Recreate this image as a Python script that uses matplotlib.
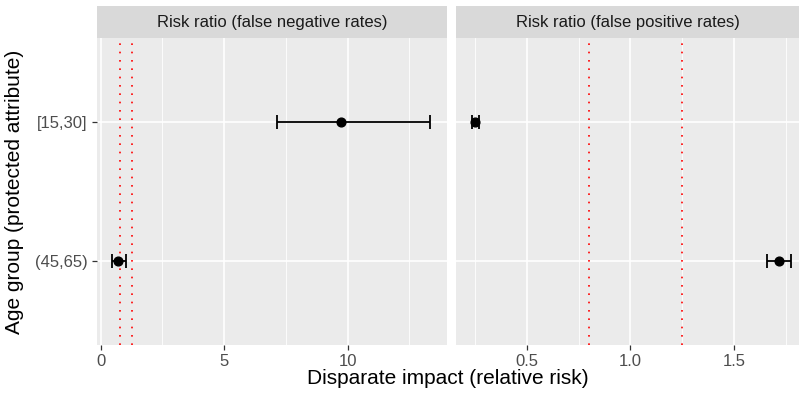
import matplotlib.pyplot as plt
from matplotlib.patches import Rectangle

plt.rcParams['font.family'] = ['Liberation Sans', 'DejaVu Sans']

groups = ['(45,65)', '[15,30]']
panels = ['Risk ratio (false negative rates)', 'Risk ratio (false positive rates)']
estimate = [[0.70, 9.72], [1.716, 0.252]]
lower = [[0.46, 7.15], [1.66, 0.234]]
upper = [[1.01, 13.32], [1.775, 0.270]]
thresholds = [0.8, 1.25]
xticks = [[0, 5, 10], [0.5, 1.0, 1.5]]
xticklabels = [['0', '5', '10'], ['0.5', '1.0', '1.5']]
xminor = [[2.5, 7.5, 12.5], [0.25, 0.75, 1.25, 1.75]]
xlims = [(-0.15, 14.02), (0.158, 1.815)]

W, H = 799, 394
fig = plt.figure(figsize=(W / 100, H / 100), dpi=100)
boxes = [(97, 447), (456, 799)]
top, bottom, strip_top = 38, 345, 6
grey_txt = '#4D4D4D'

axes = []
for i, (x0, x1) in enumerate(boxes):
    ax = fig.add_axes([x0 / W, (H - bottom) / H, (x1 - x0) / W, (bottom - top) / H])
    ax.set_facecolor('#EBEBEB')
    for s in ax.spines.values():
        s.set_visible(False)
    ypos = list(range(1, len(groups) + 1))
    ax.set_xlim(*xlims[i])
    ax.set_ylim(0.4, len(groups) + 0.6)
    for m in xminor[i]:
        ax.axvline(m, color='white', lw=0.6, zorder=0)
    for t in xticks[i]:
        ax.axvline(t, color='white', lw=1.2, zorder=0)
    for y in ypos:
        ax.axhline(y, color='white', lw=1.2, zorder=0)
    for t in thresholds:
        ax.axvline(t, color='red', lw=1.2, ls=(0, (1, 4)), zorder=1)
    est = estimate[i]
    lo = [e - l for e, l in zip(est, lower[i])]
    hi = [u - e for e, u in zip(est, upper[i])]
    ax.errorbar(est, ypos, xerr=[lo, hi], fmt='o', color='black', ms=6.3,
                elinewidth=1.3, capsize=5, capthick=1.3, zorder=3)
    ax.set_xticks(xticks[i])
    ax.set_xticklabels(xticklabels[i])
    ax.set_yticks(ypos)
    if i == 0:
        ax.set_yticklabels(groups)
    else:
        ax.tick_params(axis='y', left=False, labelleft=False)
    ax.tick_params(axis='both', colors='#333333', labelcolor=grey_txt,
                   labelsize=12, length=3.6, width=0.9, pad=3)
    hfrac = (top - strip_top) / (bottom - top)
    ax.add_patch(Rectangle((0, 1), 1, hfrac, transform=ax.transAxes,
                           facecolor='#D9D9D9', edgecolor='none', clip_on=False))
    ax.text(0.5, 1 + hfrac / 2, panels[i], transform=ax.transAxes,
            ha='center', va='center', fontsize=12, color='#1A1A1A')
    axes.append(ax)

fig.text((97 + 799) / 2 / W, 0.015, 'Disparate impact (relative risk)',
         ha='center', va='bottom', fontsize=15)
fig.text(15 / W, (H - (top + bottom) / 2) / H, 'Age group (protected attribute)',
         ha='center', va='center', rotation=90, fontsize=15)

fig.savefig('out.png', dpi=100)
